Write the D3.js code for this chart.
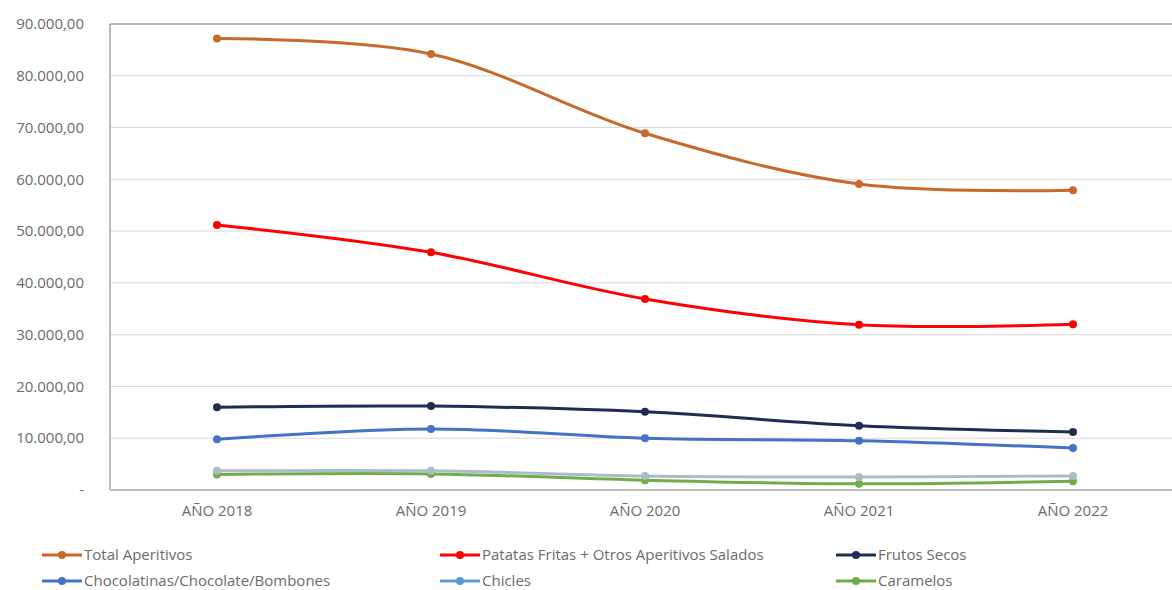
<!DOCTYPE html>
<html><head><meta charset="utf-8">
<script src="https://cdn.jsdelivr.net/npm/d3@7"></script>
<style>body{margin:0;background:#fff;} svg{display:block;font-family:"Open Sans","Liberation Sans",sans-serif;}</style>
</head><body><svg id="c" width="1172" height="590"></svg>
<script>
const categories = ["AÑO 2018","AÑO 2019","AÑO 2020","AÑO 2021","AÑO 2022"];
const seriesNames = ["Total Aperitivos","Patatas Fritas + Otros Aperitivos Salados","Frutos Secos","Chocolatinas/Chocolate/Bombones","Chicles","Caramelos"];
const totalAperitivos = [87200, 84200, 68900, 59100, 57900];
const patatasFritas = [51200, 45900, 36900, 31900, 32000];
const frutosSecos = [16000, 16200, 15100, 12400, 11200];
const chocolatinas = [9800, 11800, 10000, 9500, 8100];
const chicles = [3700, 3700, 2700, 2500, 2700];
const caramelos = [3000, 3100, 1900, 1200, 1700];
const yTicks = [0,10000,20000,30000,40000,50000,60000,70000,80000,90000];
const colors = ["#c8692b","#ff0000","#1f2d50","#4472c4","#aabccc","#70ad47"];
const legendColors = ["#c8692b","#ff0000","#1f2d50","#4472c4","#5b9bd5","#70ad47"];
const allSeries = [totalAperitivos, patatasFritas, frutosSecos, chocolatinas, chicles, caramelos];

const svg = d3.select("#c");
const L = 110, R = 1180, T = 24, B = 490;
const x = d3.scalePoint().domain(categories).range([L, R]).padding(0.5);
const y = d3.scaleLinear().domain([0, 90000]).range([B, T]);
const fmt = v => v === 0 ? "-" : d3.format(",.2f")(v).replace(/,/g, "X").replace(/\./g, ",").replace(/X/g, ".");

// gridlines
svg.append("g").selectAll("line").data(yTicks.filter(d => d > 0)).join("line")
  .attr("x1", L).attr("x2", R).attr("y1", d => y(d)).attr("y2", d => y(d))
  .attr("stroke", "#d9d9d9").attr("stroke-width", 1);
// frame
svg.append("line").attr("x1", L).attr("x2", L).attr("y1", T).attr("y2", B).attr("stroke", "#a6a6a6").attr("stroke-width", 1.5);
svg.append("line").attr("x1", L).attr("x2", R).attr("y1", B).attr("y2", B).attr("stroke", "#bfbfbf").attr("stroke-width", 2);
svg.append("line").attr("x1", L).attr("x2", R).attr("y1", T).attr("y2", T).attr("stroke", "#a6a6a6").attr("stroke-width", 1.5);

// y labels
svg.append("g").selectAll("text").data(yTicks).join("text")
  .attr("x", 84).attr("y", d => y(d)).attr("dy", "0.35em").attr("text-anchor", "end")
  .attr("font-size", 15).attr("fill", "#6b6b6b").text(fmt);
// x labels
svg.append("g").selectAll("text").data(categories).join("text")
  .attr("x", d => x(d)).attr("y", 516).attr("text-anchor", "middle")
  .attr("font-size", 15).attr("fill", "#6b6b6b").text(d => d);

const line = d3.line().x((d, i) => x(categories[i])).y(d => y(d)).curve(d3.curveCatmullRom.alpha(0.5));
const order = [5, 4, 3, 2, 1, 0];
order.forEach(si => {
  const g = svg.append("g");
  g.append("path").datum(allSeries[si]).attr("d", line).attr("fill", "none")
    .attr("stroke", colors[si]).attr("stroke-width", 3);
  g.selectAll("circle").data(allSeries[si]).join("circle")
    .attr("cx", (d, i) => x(categories[i])).attr("cy", d => y(d)).attr("r", 4)
    .attr("fill", colors[si]);
});

// legend
const legPos = [[42,555],[440,555],[836,555],[42,581],[440,581],[836,581]];
seriesNames.forEach((n, i) => {
  const [lx, ly] = legPos[i];
  const g = svg.append("g");
  g.append("line").attr("x1", lx).attr("x2", lx + 40).attr("y1", ly).attr("y2", ly)
    .attr("stroke", legendColors[i]).attr("stroke-width", 3);
  g.append("circle").attr("cx", lx + 20).attr("cy", ly).attr("r", 4).attr("fill", legendColors[i]);
  g.append("text").attr("x", lx + 42).attr("y", ly).attr("dy", "0.35em")
    .attr("font-size", 15).attr("fill", "#6b6b6b").text(n);
});
</script></body></html>
